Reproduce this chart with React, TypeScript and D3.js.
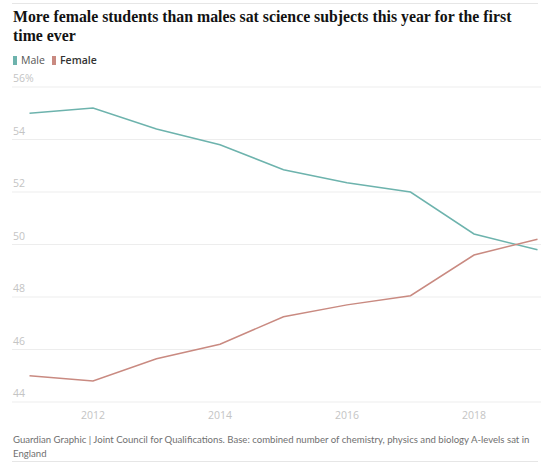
import React from "react";
import * as d3 from "d3";

const years = [2011, 2012, 2013, 2014, 2015, 2016, 2017, 2018, 2019];
const male = [55.0, 55.2, 54.4, 53.8, 52.85, 52.35, 52.0, 50.4, 49.8];
const female = [45.0, 44.8, 45.65, 46.2, 47.25, 47.7, 48.05, 49.6, 50.2];
const yTicks = [44, 46, 48, 50, 52, 54, 56];
const xTicks = [2012, 2014, 2016, 2018];
const titleLines = [
  "More female students than males sat science subjects this year for the first",
  "time ever",
];
const footerLines = [
  "Guardian Graphic | Joint Council for Qualifications. Base: combined number of chemistry, physics and biology A-levels sat in",
  "England",
];

const W = 554;
const H = 462;
const MALE_COLOR = "#6db3ad";
const FEMALE_COLOR = "#c98a81";
const SANS = "'Open Sans', 'Noto Sans', sans-serif";

export default function App() {
  const x = d3.scaleLinear().domain([2011, 2019]).range([29.5, 537.5]);
  const y = d3.scaleLinear().domain([44, 56]).range([402, 87]);
  const line = d3
    .line<number>()
    .x((_, i) => x(years[i]))
    .y((d) => y(d));

  return (
    <svg
      width={W}
      height={H}
      style={{ position: "absolute", left: 0, top: 0, background: "#fff" }}
    >
      <line x1={12} x2={538} y1={3.5} y2={3.5} stroke="#e6e6e6" strokeWidth={1} />
      {titleLines.map((t, i) => (
        <text
          key={i}
          x={13}
          y={22 + i * 19}
          fontFamily="'Liberation Serif', 'DejaVu Serif', serif"
          fontWeight="bold"
          fontSize={15.8}
          fill="#121212"
        >
          {t}
        </text>
      ))}
      <rect x={13} y={56} width={4} height={9} fill={MALE_COLOR} />
      <text x={21} y={64} fontFamily={SANS} fontSize={10.5} fill="#555">
        Male
      </text>
      <rect x={52} y={56} width={4} height={9} fill={FEMALE_COLOR} />
      <text x={60} y={64} fontFamily={SANS} fontSize={10.5} fontWeight={600} fill="#333">
        Female
      </text>
      {yTicks.map((t) => (
        <g key={t}>
          <line x1={12} x2={541} y1={y(t)} y2={y(t)} stroke="#ededed" strokeWidth={1} />
          <text x={13} y={y(t) - 5} fontFamily={SANS} fontSize={10.5} fill="#c4c4c4">
            {t === 56 ? "56%" : t}
          </text>
        </g>
      ))}
      {xTicks.map((t) => (
        <text
          key={t}
          x={x(t)}
          y={419}
          textAnchor="middle"
          fontFamily={SANS}
          fontSize={10.5}
          fill="#c4c4c4"
        >
          {t}
        </text>
      ))}
      <path d={line(male) || ""} fill="none" stroke={MALE_COLOR} strokeWidth={1.5} />
      <path d={line(female) || ""} fill="none" stroke={FEMALE_COLOR} strokeWidth={1.5} />
      {footerLines.map((t, i) => (
        <text
          key={i}
          x={13}
          y={443 + i * 13.5}
          fontFamily="Lato, 'Open Sans', sans-serif"
          fontSize={9.6}
          fill="#707070"
        >
          {t}
        </text>
      ))}
      <line x1={12} x2={538} y1={461.5} y2={461.5} stroke="#e6e6e6" strokeWidth={1} />
    </svg>
  );
}
